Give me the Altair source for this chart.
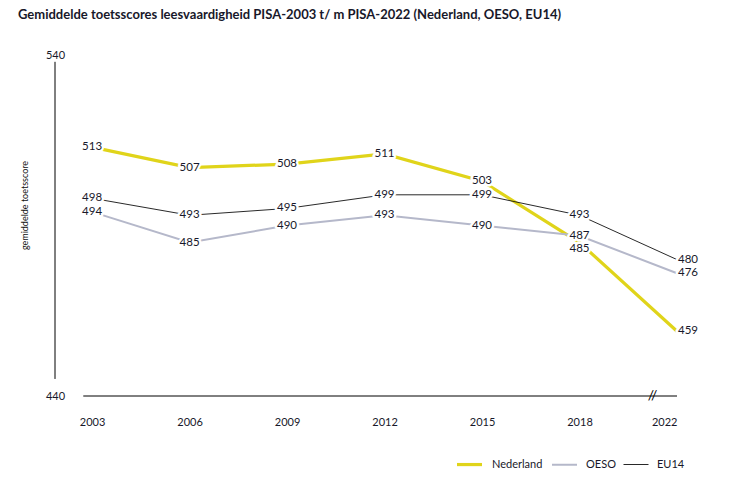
import altair as alt
import pandas as pd

years = ["2003", "2006", "2009", "2012", "2015", "2018", "2022"]
nederland = [513, 507, 508, 511, 503, 485, 459]
oeso = [494, 485, 490, 493, 490, 487, 476]
eu14 = [498, 493, 495, 499, 499, 493, 480]
series_names = ["Nederland", "OESO", "EU14"]
series_colors = ["#E0D41A", "#B5B8CA", "#111111"]
series_widths = [3.2, 2, 0.9]

rows = []
for name, vals in zip(series_names, [nederland, oeso, eu14]):
    for i, (yr, v) in enumerate(zip(years, vals)):
        rows.append({"series": name, "idx": i, "year": yr, "score": v})
df = pd.DataFrame(rows)
one = pd.DataFrame({"a": [0]})

FONT = "Lato"
TXT = "#18182a"

xscale = alt.Scale(domain=[-0.38, 6], nice=False, zero=False)
yscale = alt.Scale(domain=[440, 540], nice=False, zero=False)
label_expr = "[" + ",".join(f"'{y}'" for y in years) + "][datum.value]"

leg = alt.Legend(
    title=None, orient="none", legendX=400, legendY=395, direction="horizontal",
    symbolType="stroke", symbolSize=625, labelFont=FONT, labelFontSize=11,
    labelColor=TXT, columnPadding=5, labelOffset=8,
)

base = alt.Chart(df)

lines = base.mark_line().encode(
    x=alt.X("idx:Q", scale=xscale, axis=alt.Axis(
        values=list(range(7)), labelExpr=label_expr, domain=False, ticks=False,
        grid=False, title=None, labelPadding=20, labelFontSize=11,
        labelColor=TXT, labelFont=FONT)),
    y=alt.Y("score:Q", scale=yscale, axis=alt.Axis(
        values=[440, 540], domain=False, ticks=False, tickSize=0, grid=False,
        labelAlign="center", labelPadding=0, labelBaseline="middle",
        title="gemiddelde toetsscore", titleX=-31, titleY=150, titleAngle=270,
        titleAlign="center", titleBaseline="middle", titleFontSize=9,
        titleFontWeight="normal", titleFont=FONT, titleColor="#111111",
        labelFont=FONT, labelFontSize=11, labelColor=TXT)),
    color=alt.Color("series:N", scale=alt.Scale(domain=series_names, range=series_colors), legend=leg),
    strokeWidth=alt.StrokeWidth("series:N", scale=alt.Scale(type="ordinal", domain=series_names, range=series_widths), legend=leg),
)


def text_layer(filter_expr, align, dx, dy, halo):
    m = dict(align=align, baseline="middle", dx=dx, dy=dy, font=FONT, fontSize=11.5)
    if halo:
        mk = base.mark_text(stroke="white", strokeWidth=5, fill="white", strokeJoin="round", **m)
    else:
        mk = base.mark_text(fill=TXT, **m)
    return mk.encode(x="idx:Q", y="score:Q", text="score:Q").transform_filter(filter_expr)


f_mid = "datum.idx < 6 && !(datum.series == 'Nederland' && datum.idx == 5)"
f_last = "datum.idx == 6"
f_nudge = "datum.series == 'Nederland' && datum.idx == 5"

halos = [text_layer(f_mid, "center", 0, 0, True),
         text_layer(f_last, "left", 1, 0, True),
         text_layer(f_nudge, "center", 0, 6, True)]
labels = [text_layer(f_mid, "center", 0, 0, False),
          text_layer(f_last, "left", 1, 0, False),
          text_layer(f_nudge, "center", 0, 6, False)]

yline = alt.Chart(one).mark_rule(color="black", strokeWidth=1).encode(
    x=alt.value(0), y=alt.datum(538), y2=alt.datum(445))
xline = alt.Chart(one).mark_rule(color="black", strokeWidth=1).encode(
    x=alt.datum(-0.09), x2=alt.datum(6), y=alt.datum(440))
brk = alt.Chart(one).mark_text(text="//", font=FONT, fontSize=14, color="black",
                               baseline="middle", align="center").encode(
    x=alt.datum(5.75), y=alt.datum(440))

chart = alt.layer(yline, xline, brk, lines, *halos, *labels).properties(
    width=622, height=341,
    title=alt.TitleParams(
        "Gemiddelde toetsscores leesvaardigheid PISA-2003 t/ m PISA-2022 (Nederland, OESO, EU14)",
        anchor="start", frame="group", dx=-37, offset=27, font=FONT, fontSize=13,
        fontWeight="bold", color=TXT),
    autosize=alt.AutoSizeParams(type="none"),
    padding={"left": 47, "top": 47, "right": 50, "bottom": 76},
).configure(background="white").configure_view(
    strokeWidth=0, stroke="transparent"
).configure_axis(grid=False, domain=False, ticks=False)

chart.save("out.html", embed_options={"renderer": "svg", "actions": False})
